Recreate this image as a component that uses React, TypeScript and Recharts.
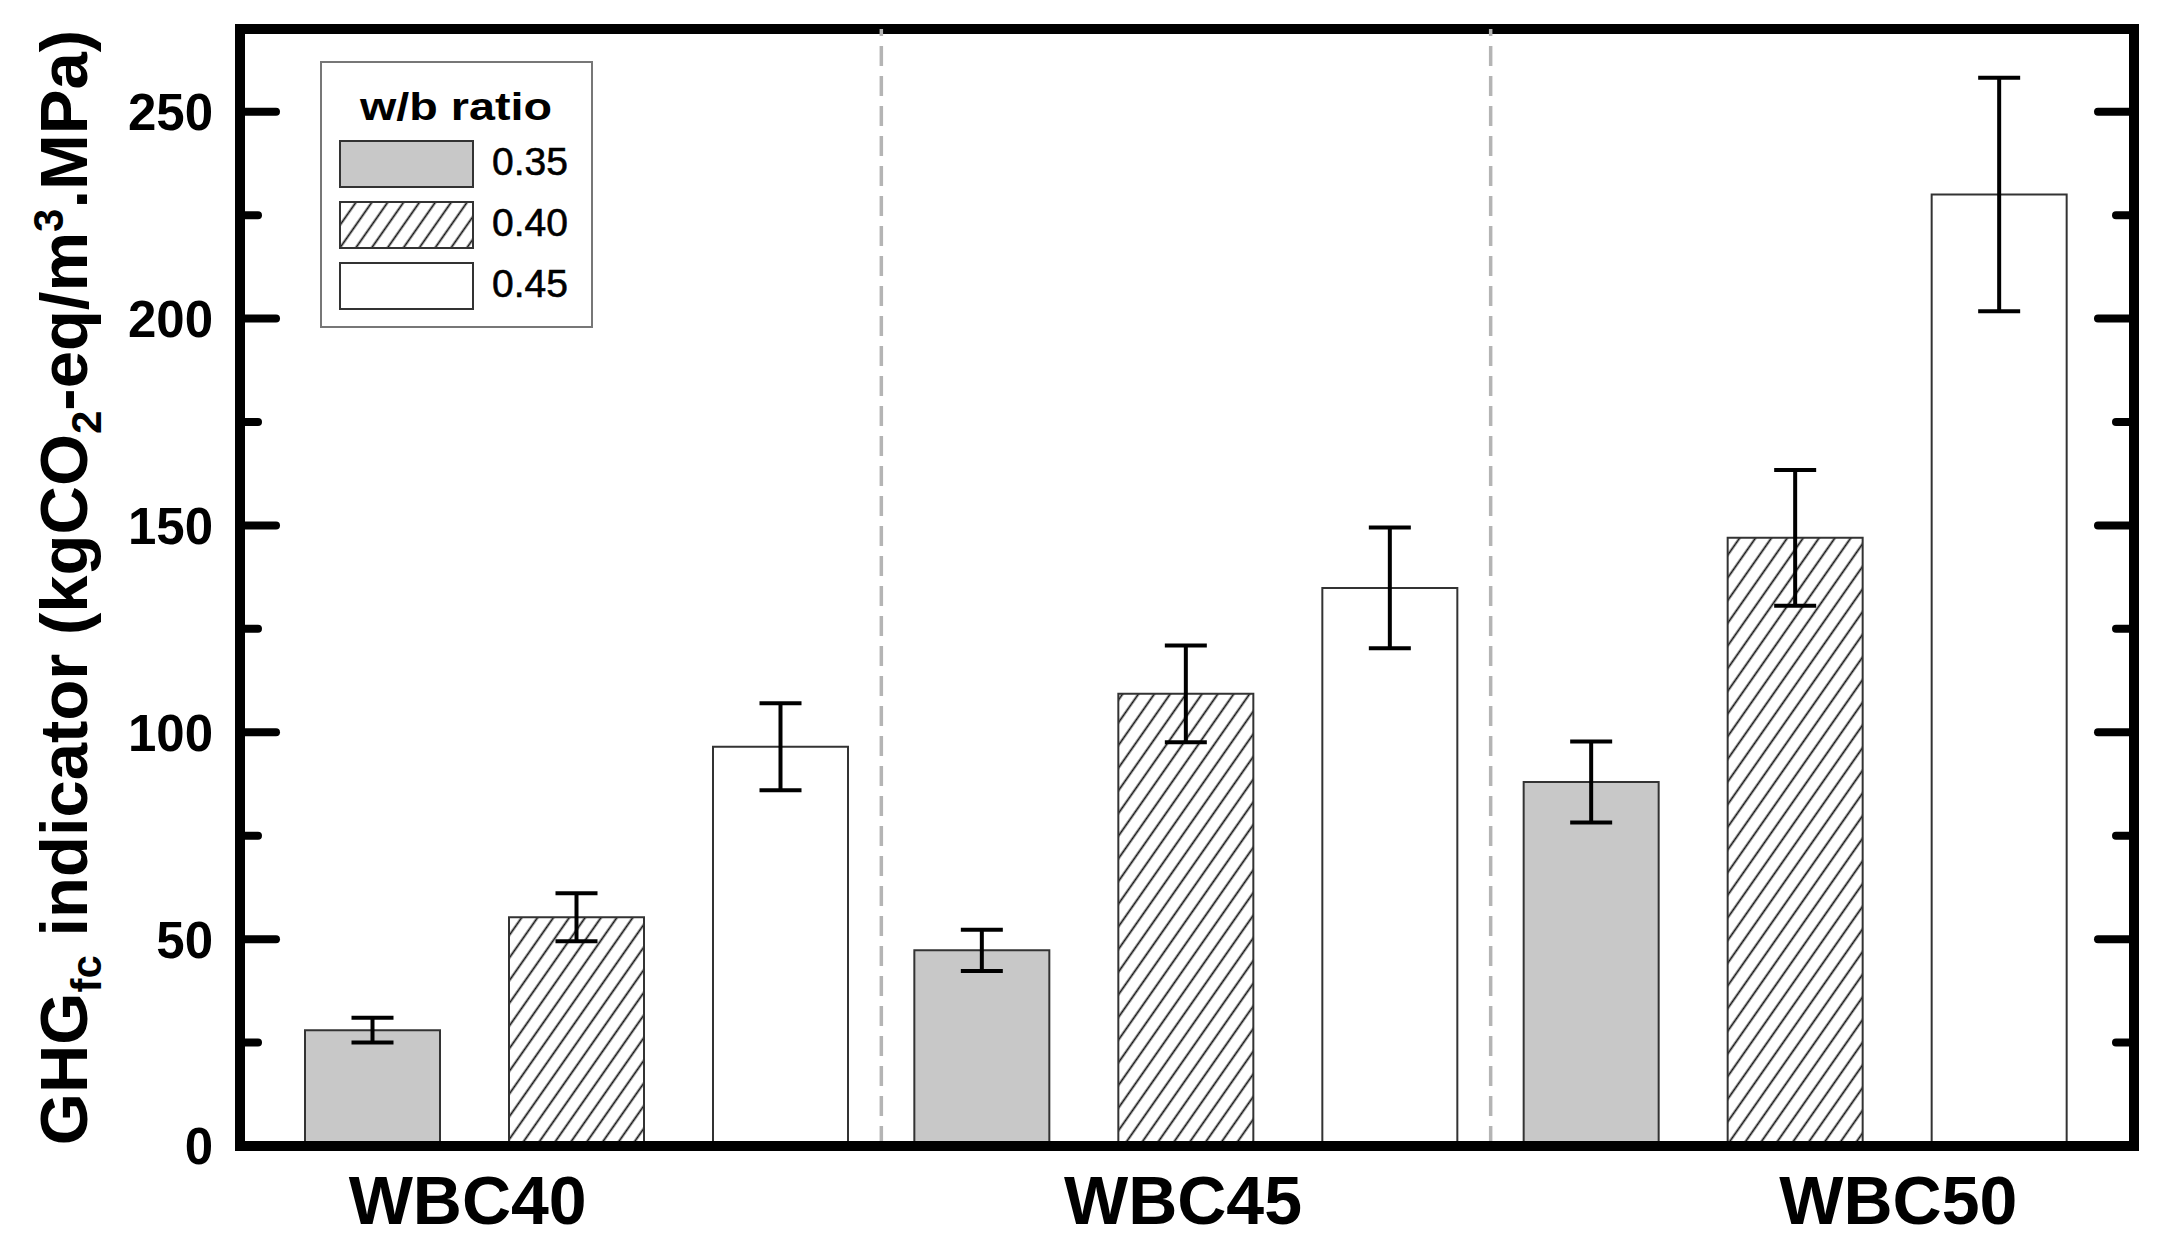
import React from 'react';
import { BarChart, Bar, XAxis, YAxis, ErrorBar, ReferenceLine, ReferenceArea, Legend } from 'recharts';

const FONT = "'Liberation Sans', Arial, Helvetica, sans-serif";

// ---- data ----
const groups = ['WBC40', 'WBC45', 'WBC50'];
const ratios = ['0.35', '0.40', '0.45'];
const ghg035 = [28.0, 47.3, 88.0];
const err035 = [3.0, 5.0, 9.8];
const ghg040 = [55.3, 109.3, 147.0];
const err040 = [5.8, 11.7, 16.4];
const ghg045 = [96.5, 134.9, 230.0];
const err045 = [10.5, 14.6, 28.2];
const yTicks = [0, 25, 50, 75, 100, 125, 150, 175, 200, 225, 250];
const yDomain = [0, 270];
// dashed separators drawn at the start of these groups
const separatedGroups = ['WBC45', 'WBC50'];

const rows = groups.map((g, i) => ({
  group: g,
  v035: ghg035[i],
  e035: err035[i],
  v040: ghg040[i],
  e040: err040[i],
  v045: ghg045[i],
  e045: err045[i],
}));

const series = [
  { key: 'v035', err: 'e035', name: ratios[0], fill: '#c8c8c8' },
  { key: 'v040', err: 'e040', name: ratios[1], fill: 'url(#hatch)' },
  { key: 'v045', err: 'e045', name: ratios[2], fill: '#ffffff' },
];

const legendFills = ['#c8c8c8', 'url(#hatchLegend)', '#ffffff'];

const HatchPattern = ({ id }: { id: string }) => (
  <pattern id={id} patternUnits="userSpaceOnUse" width={13} height={13} patternTransform="rotate(35)">
    <rect x={0} y={0} width={13} height={13} fill="#ffffff" />
    <line x1={6.5} y1={0} x2={6.5} y2={13} stroke="#111" strokeWidth={1.8} />
  </pattern>
);

const LeftTick = (props: any) => {
  const { x, y, payload } = props;
  const major = payload.value % 50 === 0;
  return (
    <g>
      <line x1={x} x2={x + (major ? 36 : 18)} y1={y} y2={y} stroke="#000" strokeWidth={8} strokeLinecap="round" />
      {major && (
        <text x={x - 27} y={y} dy="0.36em" textAnchor="end" fontFamily={FONT} fontWeight="bold" fontSize={51} fill="#000">
          {payload.value}
        </text>
      )}
    </g>
  );
};

const RightTick = (props: any) => {
  const { x, y, payload } = props;
  const major = payload.value % 50 === 0;
  return (
    <line x1={x} x2={x - (major ? 36 : 18)} y1={y} y2={y} stroke="#000" strokeWidth={8} strokeLinecap="round" />
  );
};

const GroupTick = (props: any) => {
  const { x, y, payload, index } = props;
  const spread = 106;
  return (
    <text x={x + (index - 1) * spread - 3} y={y + 78} textAnchor="middle" fontFamily={FONT} fontWeight="bold" fontSize={68} fill="#000">
      {payload.value}
    </text>
  );
};

const YTitle = (props: any) => {
  const vb = props.viewBox || { x: 0, y: 0, width: 0, height: 0 };
  const cx = vb.x + 79;
  const cy = vb.y + vb.height / 2;
  return (
    <text
      transform={`translate(${cx},${cy}) rotate(-90)`}
      textAnchor="middle"
      fontFamily={FONT}
      fontWeight="bold"
      fontSize={67}
      fill="#000"
    >
      <tspan>GHG</tspan>
      <tspan dy={14} fontSize={42}>fc</tspan>
      <tspan dy={-14}> indicator (kgCO</tspan>
      <tspan dy={14} fontSize={42}>2</tspan>
      <tspan dy={-14}>-eq/m</tspan>
      <tspan dy={-24} fontSize={42}>3</tspan>
      <tspan dy={24}>.MPa)</tspan>
    </text>
  );
};

const LegendBox = () => (
  <svg width={273} height={267} style={{ display: 'block' }}>
    <defs>
      <HatchPattern id="hatchLegend" />
    </defs>
    <rect x={1} y={1} width={271} height={265} fill="#ffffff" stroke="#777" strokeWidth={2} />
    <text x={40} y={59} textLength={192} lengthAdjust="spacingAndGlyphs" fontFamily={FONT} fontWeight="bold" fontSize={38} fill="#000">
      w/b ratio
    </text>
    {ratios.map((r, i) => (
      <g key={r}>
        <rect x={20} y={80 + i * 61} width={133} height={46} fill={legendFills[i]} stroke="#333" strokeWidth={2} />
        <text x={172} y={114 + i * 61} fontFamily={FONT} fontSize={39} fill="#000" stroke="#000" strokeWidth={0.6}>
          {r}
        </text>
      </g>
    ))}
  </svg>
);

const axisLineStyle = { stroke: '#000', strokeWidth: 10, strokeLinecap: 'square' as const };

export default function App() {
  return (
    <div style={{ width: 2153, height: 1244 }}>
      <BarChart
        width={2153}
        height={1244}
        data={rows}
        margin={{ top: 21, right: 0, bottom: 0, left: 0 }}
        barSize={135}
        barGap={69}
      >
        <defs>
          <HatchPattern id="hatch" />
        </defs>
        <XAxis
          dataKey="group"
          type="category"
          height={106}
          padding={{ left: 32, right: 34 }}
          stroke="#000"
          axisLine={axisLineStyle}
          tickLine={false}
          tickSize={0}
          tickMargin={0}
          interval={0}
          tick={<GroupTick />}
        />
        <XAxis xAxisId="frame" dataKey="group" type="category" hide />
        <YAxis
          type="number"
          domain={yDomain}
          ticks={yTicks}
          interval={0}
          width={232}
          stroke="#000"
          axisLine={axisLineStyle}
          tickLine={false}
          tickSize={0}
          tickMargin={0}
          tick={<LeftTick />}
          allowDataOverflow
          label={{ content: YTitle }}
        />
        <YAxis
          yAxisId="right"
          orientation="right"
          type="number"
          domain={yDomain}
          ticks={yTicks}
          interval={0}
          width={27}
          stroke="#000"
          axisLine={axisLineStyle}
          tickLine={false}
          tickSize={0}
          tickMargin={0}
          tick={<RightTick />}
          allowDataOverflow
        />
        {series.map((s) => (
          <Bar key={s.key} dataKey={s.key} name={s.name} fill={s.fill} stroke="#333" strokeWidth={2} isAnimationActive={false}>
            <ErrorBar dataKey={s.err} width={21} stroke="#000" strokeWidth={4} direction="y" />
          </Bar>
        ))}
        {separatedGroups.map((g) => (
          <ReferenceLine key={g} x={g} position="start" stroke="#b4b4b4" strokeWidth={3.5} strokeDasharray="20 10" />
        ))}
        <ReferenceArea
          xAxisId="frame"
          yAxisId="right"
          x1={groups[0]}
          x2={groups[groups.length - 1]}
          y1={yDomain[0]}
          y2={yDomain[1]}
          fill="none"
          fillOpacity={0}
          stroke="#000"
          strokeWidth={10}
          ifOverflow="visible"
        />
        <Legend
          layout="vertical"
          align="center"
          verticalAlign="middle"
          wrapperStyle={{ left: 312, top: 53, width: 273, height: 267, margin: 0, lineHeight: 0 }}
          content={() => <LegendBox />}
        />
      </BarChart>
    </div>
  );
}
